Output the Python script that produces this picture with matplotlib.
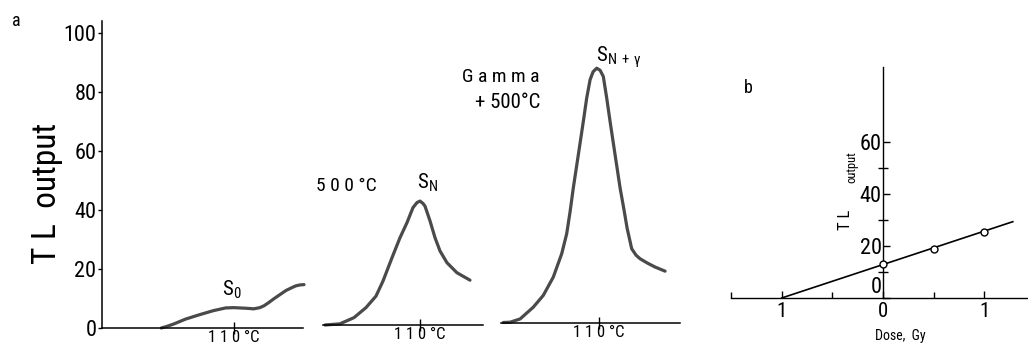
import matplotlib
matplotlib.use('Agg')
import matplotlib.pyplot as plt

plt.rcParams['font.family'] = ['Roboto Condensed', 'DejaVu Sans']
plt.rcParams['mathtext.default'] = 'regular'

# ---- panel a: glow curves (temperature in degC, TL output) ----
temp_s0 = [74, 77, 80, 86, 93, 100, 106, 110, 113, 116, 120, 123, 125, 127, 130, 133,
           136, 139, 141, 143, 145]
tl_s0 = [0, 0.6, 1.3, 3.0, 4.5, 5.9, 6.8, 6.9, 6.8, 6.7, 6.5, 6.9, 7.5, 8.4, 9.9, 11.3,
         12.7, 13.7, 14.3, 14.6, 14.7]

temp_sn = [62.5, 70, 77, 83, 88, 91.5, 96, 100, 103.5, 106.5, 108.5, 110, 111.5, 112.5,
           115, 117.5, 120, 123.5, 128.5, 135]
tl_sn = [0, 0.4, 2.5, 5.9, 9.8, 14.9, 22.8, 29.6, 34.7, 39.8, 41.5, 42.0, 41.2, 40.3,
         35.3, 29.6, 25.1, 21.1, 17.7, 15.2]

temp_sng = [62.4, 65.8, 70.8, 77.4, 82.4, 87.4, 91.6, 94.1, 95.8, 97.4, 99.9, 102.4, 104.1,
            105.8, 107.3, 109.1, 110.8, 112.4, 114.1, 115.8, 118.3, 120.8, 122.8, 124.3,
            126.6, 128.8, 130.8, 134.3, 138.3, 143.3]
tl_sng = [0, 0.1, 1.2, 5.2, 9.2, 15.4, 23.3, 30.1, 37.6, 45.6, 56.8, 68.1, 76.1,
          82.3, 85.0, 86.2, 85.5, 83.4, 76.1, 68.1, 56.8, 45.6, 38.0, 32.0,
          25.0, 22.8, 21.6, 20.2, 18.8, 17.4]

a_yticks = [0, 20, 40, 60, 80, 100]

# ---- panel b: dose response ----
dose_pts = [0, 0.5, 1]
tl_pts = [13.1, 19.0, 25.5]
dose_fit = [-1, 1.28]
tl_fit = [0, 29.4]
b_xticks = [-1, 0, 1]
b_xlabels = ['1', '0', '1']
b_yticks = [0, 20, 40, 60]

W, H = 1028, 345
fig = plt.figure(figsize=(W / 100, H / 100), dpi=100)

CURVE = '#4a4a4a'
YSCALE = 2.95  # px per TL unit in panel a


def add_axes_px(x0, x1, ybase, ytop):
    return fig.add_axes([x0 / W, (H - ybase) / H, (x1 - x0) / W, (ybase - ytop) / H])


def glow_axes(x0, x1, ybase, xlim, show_y):
    ax = add_axes_px(x0, x1, ybase, ybase - 104 * YSCALE)
    ax.set_xlim(*xlim)
    ax.set_ylim(0, 104)
    ax.patch.set_visible(False)
    for s in ['top', 'right']:
        ax.spines[s].set_visible(False)
    ax.spines['bottom'].set_linewidth(1.1)
    ax.set_xticks([110])
    ax.set_xticklabels(['1 1 0 °C'])
    ax.tick_params(axis='x', direction='inout', length=8, width=1, labelsize=12, pad=-2.5)
    if show_y:
        ax.spines['left'].set_linewidth(1.1)
        ax.set_yticks(a_yticks)
        ax.tick_params(axis='y', direction='out', length=3, width=1, labelsize=16, pad=1)
    else:
        ax.spines['left'].set_visible(False)
        ax.set_yticks([])
    return ax


ax1 = glow_axes(102, 303, 328, (44.5, 144.5), True)
ax1.plot(temp_s0, tl_s0, color=CURVE, lw=2.3, solid_capstyle='round', clip_on=False)

ax2 = glow_axes(323, 483, 325, (61.5, 141.5), False)
ax2.plot(temp_sn, tl_sn, color=CURVE, lw=2.3, solid_capstyle='round', clip_on=False)

ax3 = glow_axes(501, 680, 322.5, (61.25, 150.75), False)
ax3.plot(temp_sng, tl_sng, color=CURVE, lw=2.3, solid_capstyle='round', clip_on=False)


def ftext(x, y, s, **kw):
    fig.text(x / W, 1 - y / H, s, **kw)


ftext(16, 21, 'a', fontsize=13, ha='center', va='center')
ftext(47, 193, 'T L  output', fontsize=24, rotation=90, ha='center', va='center')
ftext(232, 290, 'S$_0$', fontsize=15, ha='center', va='center')
ftext(346, 186, '5 0 0 °C', fontsize=14, ha='center', va='center')
ftext(427, 183, 'S$_N$', fontsize=15, ha='center', va='center')
ftext(540, 77, 'G a m m a', fontsize=14, ha='right', va='center')
ftext(540, 103, '+ 500°C', fontsize=15, ha='right', va='center')
ftext(619, 57, 'S$_{N\\,+\\,\\gamma}$', fontsize=15, ha='center', va='center')

# ---- panel b ----
axb = add_axes_px(731, 1028, 298, 67)
axb.set_xlim(-1.5, 1.43)
axb.set_ylim(0, 89)
axb.patch.set_visible(False)
for s in ['top', 'right']:
    axb.spines[s].set_visible(False)
axb.spines['left'].set_position(('data', 0))
axb.spines['left'].set_linewidth(1.0)
axb.spines['bottom'].set_linewidth(1.0)
axb.set_xticks(b_xticks)
axb.set_xticklabels(b_xlabels)
axb.set_xticks([-1.5, -0.5, 0.5], minor=True)
axb.set_yticks(b_yticks)
axb.set_yticks([10, 30, 50], minor=True)
axb.tick_params(axis='x', which='major', direction='in', length=5, width=1, labelsize=15, pad=3)
axb.tick_params(axis='x', which='minor', direction='in', length=4, width=1)
axb.tick_params(axis='y', which='major', direction='in', length=5, width=1, labelsize=16, pad=1)
axb.tick_params(axis='y', which='minor', direction='inout', length=7, width=1)
axb.yaxis.get_major_ticks()[0].label1.set_verticalalignment('bottom')
axb.plot(dose_fit, tl_fit, color='black', lw=1.2, clip_on=False)
axb.plot(dose_pts, tl_pts, 'o', ms=5, mfc='white', mec='black', mew=1, zorder=3)

ftext(748, 88, 'b', fontsize=13, ha='center', va='center')
ftext(846, 220, 'T L', fontsize=12, rotation=90, ha='center', va='center')
ftext(852, 167, 'output', fontsize=9, rotation=90, ha='center', va='center')
ftext(900, 336, 'Dose,  Gy', fontsize=10, ha='center', va='center')

fig.savefig('out.png', dpi=100)
